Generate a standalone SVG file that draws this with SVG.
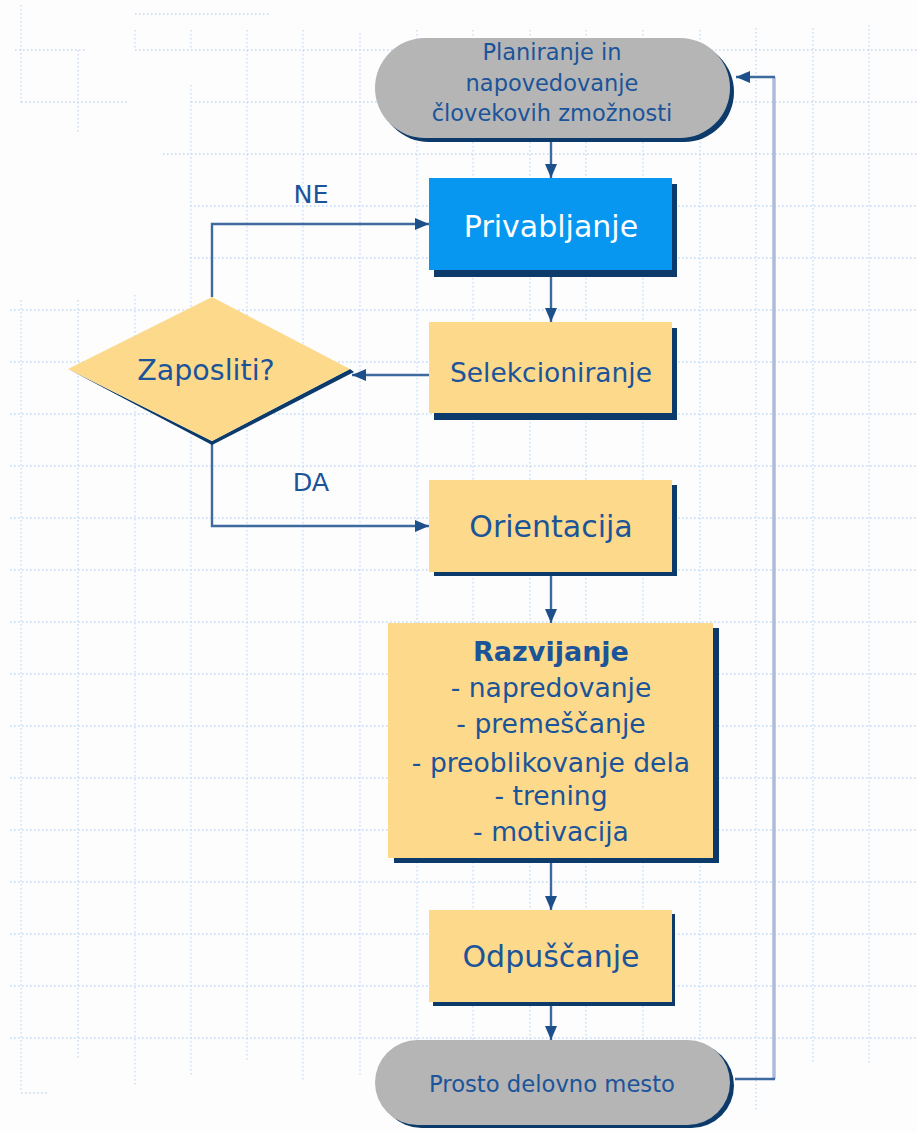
<svg xmlns="http://www.w3.org/2000/svg" width="917" height="1133" viewBox="0 0 917 1133">
<defs>
<style>
.grid{fill:none;stroke:#C3DAF6;stroke-width:1.3;stroke-dasharray:1.6 2.4}
.conn{fill:none;stroke:#3F6A9F;stroke-width:2.4}
.shadow{fill:#0C3A6B}
.proc{fill:#FDD98B}
.term{fill:#B5B5B5}
.t{font-family:"DejaVu Sans","Liberation Sans",sans-serif;fill:#1B5499;text-anchor:middle}
</style>
<marker id="ah" viewBox="0 0 14 12" refX="14" refY="6" markerWidth="14" markerHeight="12" orient="auto" markerUnits="userSpaceOnUse">
<path d="M0,0 L14,6 L0,12 z" fill="#1D4F8A"/>
</marker>
</defs>
<rect x="0" y="0" width="917" height="1133" fill="#FDFDFE"/>
<g id="grid">
<path class="grid" d="M21,5V103 M21,300V1090 M78,50V133 M78,300V1060 M135,30V50 M135,295V1085 M191,30V50 M191,85V1075 M247,30V1062 M303,30V1080 M360,33V1075 M417,30V1040 M473,30V1040 M530,30V1040 M586,30V1040 M643,30V1040 M700,30V1040 M756,28V1110 M813,28V1063 M869,25V1065"/>
<path class="grid" d="M135,14H270 M15,50H85 M135,50H917 M21,102H127 M191,102H917 M163,154H917 M190,206H917 M190,258H917 M10,310H917 M10,362H917 M10,414H917 M10,466H917 M10,518H917 M10,570H917 M10,622H917 M10,674H917 M10,726H917 M10,778H917 M10,830H917 M10,882H917 M10,934H917 M10,986H917 M10,1038H917 M21,1093H47"/>
</g>
<g id="connectors">
<path class="conn" d="M551,142 V178" marker-end="url(#ah)"/>
<path class="conn" d="M551,277 V322" marker-end="url(#ah)"/>
<path class="conn" d="M430,375 H352" marker-end="url(#ah)"/>
<path class="conn" d="M212,297 V224 H429" marker-end="url(#ah)"/>
<path class="conn" d="M212,441 V526 H429" marker-end="url(#ah)"/>
<path class="conn" d="M551,576 V623" marker-end="url(#ah)"/>
<path class="conn" d="M551,863 V910" marker-end="url(#ah)"/>
<path class="conn" d="M551,1006 V1040" marker-end="url(#ah)"/>
<path d="M774,1079 V77" fill="none" stroke="#AEBBD8" stroke-width="3.5"/>
<path class="conn" d="M735,1079 H775"/>
<path class="conn" d="M775,77 H736" marker-end="url(#ah)"/>
<text class="t" x="311" y="203" font-size="25.5">NE</text>
<text class="t" x="311" y="491" font-size="25.5">DA</text>
</g>
<g id="planiranje">
<rect class="shadow" x="379" y="42" width="355" height="100" rx="50"/>
<rect class="term" x="375" y="38" width="355" height="100" rx="50"/>
<text class="t" font-size="22.5"><tspan x="552" y="60">Planiranje in</tspan><tspan x="552" y="91">napovedovanje</tspan><tspan x="552" y="121">človekovih zmožnosti</tspan></text>
</g>
<g id="privabljanje">
<rect class="shadow" x="434" y="184" width="243" height="93"/>
<rect x="429" y="178" width="243" height="92" fill="#0797F0"/>
<text class="t" x="551" y="237" font-size="30" style="fill:#FFFFFF">Privabljanje</text>
</g>
<g id="selekcioniranje">
<rect class="shadow" x="434" y="328" width="243" height="92"/>
<rect class="proc" x="429" y="322" width="243" height="91"/>
<text class="t" x="551" y="382" font-size="26.5">Selekcioniranje</text>
</g>
<g id="zaposliti">
<path class="shadow" d="M68,369 L212,445 L354,372 L350,369 L212,441 Z"/>
<path class="proc" d="M68,369 L212,297 L350,369 L212,441 Z"/>
<text class="t" x="206" y="380" font-size="28.5">Zaposliti?</text>
</g>
<g id="orientacija">
<rect class="shadow" x="434" y="485" width="243" height="91"/>
<rect class="proc" x="429" y="480" width="243" height="92"/>
<text class="t" x="551" y="537" font-size="30">Orientacija</text>
</g>
<g id="razvijanje">
<rect class="shadow" x="394" y="628" width="325" height="235"/>
<rect class="proc" x="388" y="623" width="325" height="235"/>
<text class="t" font-size="26.6"><tspan x="551" y="661" font-weight="bold" font-size="27">Razvijanje</tspan><tspan x="551" y="697">- napredovanje</tspan><tspan x="551" y="733">- premeščanje</tspan><tspan x="551" y="772">- preoblikovanje dela</tspan><tspan x="551" y="805">- trening</tspan><tspan x="551" y="841">- motivacija</tspan></text>
</g>
<g id="odpuscanje">
<rect class="shadow" x="433" y="914" width="242" height="92"/>
<rect class="proc" x="429" y="910" width="243" height="92"/>
<text class="t" x="551" y="967" font-size="30">Odpuščanje</text>
</g>
<g id="prosto">
<rect class="shadow" x="379" y="1043" width="355" height="85" rx="42.5"/>
<rect class="term" x="375" y="1040" width="355" height="85" rx="42.5"/>
<text class="t" x="552" y="1092" font-size="22.7">Prosto delovno mesto</text>
</g>
</svg>
